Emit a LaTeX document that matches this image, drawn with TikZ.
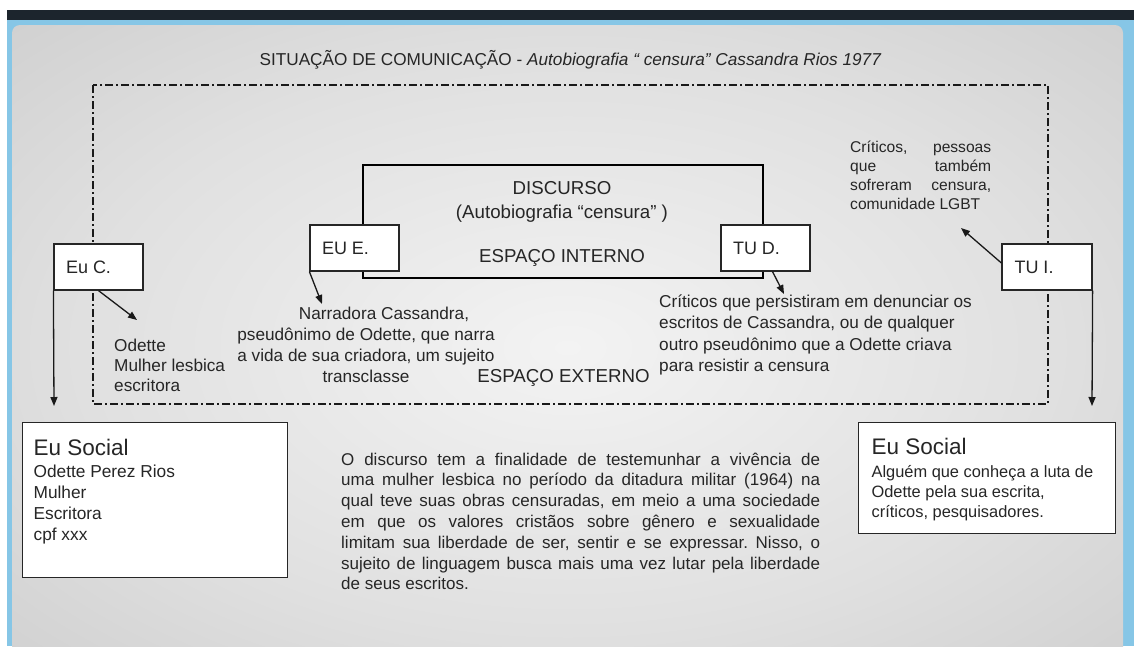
\documentclass[tikz,border=0pt]{standalone}
\usepackage{fontspec}
\setmainfont{Liberation Sans}
\frenchspacing
\usetikzlibrary{arrows.meta}
\definecolor{bgA}{HTML}{F3F3F3}
\definecolor{bgB}{HTML}{E0E0E0}
\definecolor{bgC}{HTML}{C6C6C6}
\definecolor{bgD}{HTML}{B6B6B6}
\definecolor{topbar}{HTML}{1C252D}
\definecolor{frameblue}{HTML}{86C6E6}
\definecolor{ink}{HTML}{262626}
\pgfdeclareradialshading{slideshade}{\pgfpoint{0bp}{0bp}}{color(0bp)=(bgA); color(22bp)=(bgB); color(45bp)=(bgC); color(71bp)=(bgD)}
\tikzset{
  lbl/.style={draw=ink, line width=1.2pt, fill=white, minimum width=89pt, minimum height=46pt,
    inner xsep=12pt, inner ysep=0pt, font=\fontsize{18}{22}\selectfont, text=ink},
  txt/.style={inner sep=0pt, text=ink, font=\fontsize{17.2}{21}\selectfont},
  bigtxt/.style={inner sep=0pt, text=ink, font=\fontsize{18.7}{22}\selectfont},
  arr/.style={line width=1.3pt, draw=black!90, -{Triangle[length=9pt,width=7pt]}},
  frameline/.style={line width=2.2pt, draw=black!90, dash pattern=on 8pt off 3pt on 2pt off 3pt},
  socbox/.style={draw=ink, line width=1.2pt, fill=white, inner xsep=11pt, inner ysep=0pt, anchor=north west, text=ink}
}
\begin{document}
\begin{tikzpicture}[x=1pt,y=-1pt]
\useasboundingbox (0,0) rectangle (1134,646);
\begin{scope}
\clip (0,0) rectangle (1134,646);
\fill[white] (0,0) rectangle (1134,646);
\fill[topbar] (7,10) rectangle (1134,20);
\fill[frameblue] (7,20) rectangle (1134,646);
\shade[shading=slideshade, rounded corners=8pt] (12,25) rectangle (1123,670);
\end{scope}

% title
\node[txt, anchor=base] (title) at (570.5,65) {SITUAÇÃO DE COMUNICAÇÃO - \textit{Autobiografia “ censura” Cassandra Rios 1977}};

% outer dash-dot frame
\draw[frameline] (93,85) rectangle (1048,404);

% discourse box
\node[draw=black, line width=2pt, minimum width=400pt, minimum height=113pt, inner sep=0pt] (disc) at (563,221.5) {};
\node[bigtxt, anchor=base] (discT) at (562,194) {DISCURSO};
\node[bigtxt, anchor=base] (autoT) at (562,218) {(Autobiografia “censura” )};
\node[bigtxt, anchor=base] (intT) at (562,262) {ESPAÇO INTERNO};
\node[bigtxt, anchor=base] (extT) at (563.5,382) {ESPAÇO EXTERNO};

% label boxes
\node[lbl] (EuC) at (98.5,267) {\makebox[65pt][l]{Eu C.}};
\node[lbl] (EUE) at (354.5,248) {\makebox[65pt][l]{EU E.}};
\node[lbl] (TUD) at (765.5,248) {\makebox[65pt][l]{TU D.}};
\node[lbl, minimum width=90pt] (TUI) at (1047,267) {\makebox[65pt][l]{TU I.}};

% texts
\node[txt, anchor=base west] (odette) at (114,351) {\parbox[t]{150pt}{\raggedright\fontsize{17.2}{20}\selectfont Odette\\ Mulher lesbica\\ escritora}};
\node[txt, anchor=base] (narr) at (366,319) {\parbox[t]{300pt}{\centering\fontsize{17.2}{21}\selectfont \hspace*{36pt}Narradora Cassandra,\\ pseudônimo de Odette, que narra\\ a vida de sua criadora, um sujeito\\ transclasse}};
\node[txt, anchor=base west] (critD) at (659,307) {\parbox[t]{340pt}{\raggedright\fontsize{17.2}{21.5}\selectfont Críticos que persistiram em denunciar os\\ escritos de Cassandra, ou de qualquer\\ outro pseudônimo que a Odette criava\\ para resistir a censura}};
\node[txt, anchor=base west] (critI) at (850,152) {\parbox[t]{141pt}{\fontsize{15.6}{19}\selectfont \makebox[\linewidth][s]{Críticos, pessoas}\\ \makebox[\linewidth][s]{que também}\\ \makebox[\linewidth][s]{sofreram censura,}\\ comunidade LGBT}};

% Eu Social boxes
\node[socbox] (socL) at (22,422) {\parbox[t][155pt][t]{243pt}{\raggedright\fontsize{17.3}{21}\selectfont {\fontsize{22.5}{26}\selectfont Eu Social\rule{0pt}{33pt}}\\[1pt] Odette Perez Rios\\ Mulher\\ Escritora\\ cpf xxx}};
\node[socbox, inner xsep=13pt] (socR) at (858,422) {\parbox[t][111pt][t]{231pt}{\raggedright\fontsize{16.4}{20.2}\selectfont {\fontsize{22.5}{26}\selectfont Eu Social\rule{0pt}{32pt}}\\[2.5pt] Alguém que conheça a luta de\\ Odette pela sua escrita,\\ críticos, pesquisadores.}};

% paragraph
\node[txt, anchor=base west] (para) at (341,465) {\parbox[t]{479pt}{\fontsize{17}{20.8}\selectfont O discurso tem a finalidade de testemunhar a vivência de\linebreak uma mulher lesbica no período da ditadura militar (1964) na\linebreak qual teve suas obras censuradas, em meio a uma sociedade\linebreak em que os valores cristãos sobre gênero e sexualidade\linebreak limitam sua liberdade de ser, sentir e se expressar. Nisso, o\linebreak sujeito de linguagem busca mais uma vez lutar pela liberdade\linebreak de seus escritos.}};

% connectors
\coordinate (euCend) at (54,406);
\coordinate (odA) at (137,320);
\coordinate (eeA) at (322,304);
\coordinate (tdA) at (784,294);
\coordinate (tiA) at (961,228);
\coordinate (tiB) at (1092,406);
\draw[arr] (EuC.south west) -- (euCend);
\draw[arr] (EuC.south) -- (odA);
\draw[arr] (EUE.south west) -- (eeA);
\draw[arr] ([xshift=7pt]TUD.south) -- (tdA);
\draw[arr] ([yshift=4pt]TUI.west) -- (tiA);
\draw[arr] (TUI.south east) -- (tiB);
\end{tikzpicture}
\end{document}
